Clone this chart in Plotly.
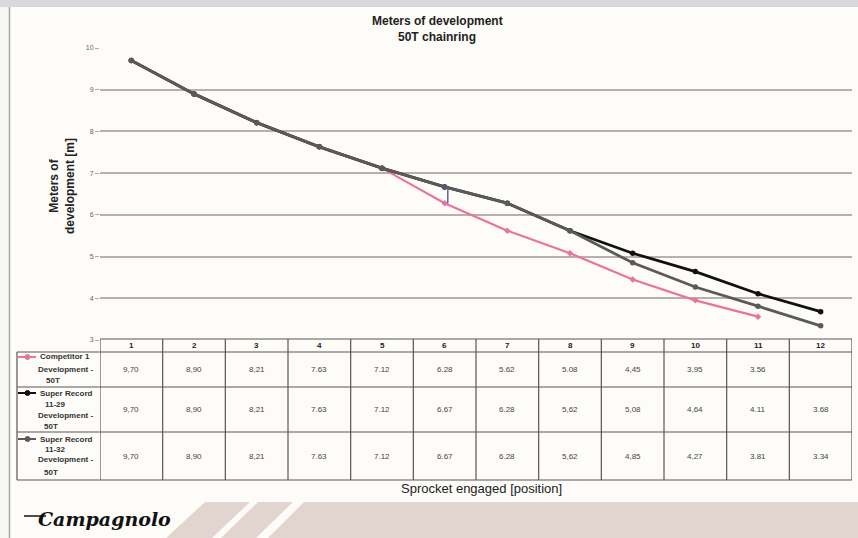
import plotly.graph_objects as go

# ---------------- data ----------------
positions = [1, 2, 3, 4, 5, 6, 7, 8, 9, 10, 11, 12]
competitor = [9.70, 8.90, 8.21, 7.63, 7.12, 6.28, 5.62, 5.08, 4.45, 3.95, 3.56, None]
sr_11_29 = [9.70, 8.90, 8.21, 7.63, 7.12, 6.67, 6.28, 5.62, 5.08, 4.64, 4.11, 3.68]
sr_11_32 = [9.70, 8.90, 8.21, 7.63, 7.12, 6.67, 6.28, 5.62, 4.85, 4.27, 3.81, 3.34]

competitor_labels = ["9,70", "8,90", "8,21", "7.63", "7.12", "6.28", "5.62", "5.08", "4,45", "3,95", "3.56", ""]
sr_11_29_labels = ["9,70", "8,90", "8,21", "7.63", "7.12", "6.67", "6.28", "5,62", "5,08", "4,64", "4.11", "3.68"]
sr_11_32_labels = ["9,70", "8,90", "8,21", "7.63", "7.12", "6.67", "6.28", "5,62", "4,85", "4,27", "3.81", "3.34"]

y_ticks = [3, 4, 5, 6, 7, 8, 9, 10]

# ---------------- geometry helpers (pixel -> paper) ----------------
W, H = 858, 538
PL, PR, PT, PB = 100, 852, 48, 340


def px(x):
    return (x - PL) / (PR - PL)


def py(y):
    return (PB - y) / (PB - PT)


PINK = "#e8739e"
BLACK = "#111111"
GRAY = "#5a5a5a"
FONT = "Liberation Sans"

fig = go.Figure()

fig.add_trace(go.Scatter(x=positions, y=competitor, mode="lines+markers",
                         line=dict(color=PINK, width=2.2),
                         marker=dict(color=PINK, size=5, symbol="diamond"),
                         name="Competitor 1", showlegend=False))
fig.add_trace(go.Scatter(x=positions, y=sr_11_29, mode="lines+markers",
                         line=dict(color=BLACK, width=2.8),
                         marker=dict(color=BLACK, size=5.5),
                         name="Super Record 11-29", showlegend=False))
fig.add_trace(go.Scatter(x=positions, y=sr_11_32, mode="lines+markers",
                         line=dict(color=GRAY, width=2.8),
                         marker=dict(color=GRAY, size=5.5),
                         name="Super Record 11-32", showlegend=False))
# blue bracket between competitor and super record at position 6
fig.add_trace(go.Scatter(x=[positions[5] + 0.05, positions[5] + 0.05],
                         y=[competitor[5], sr_11_29[5]], mode="lines",
                         line=dict(color="#4a6aa8", width=1.5), showlegend=False,
                         hoverinfo="skip"))

shapes = []
annotations = []


def ann(x, y, text, size, color="#222", weight="normal", xref="paper", **kw):
    d = dict(xref=xref, yref="paper", x=x, y=y, text=text, showarrow=False,
             xanchor="center", yanchor="middle",
             font=dict(family=kw.pop("family", FONT), size=size, color=color, weight=weight,
                       style=kw.pop("style", "normal")))
    d.update(kw)
    annotations.append(d)


# background decorations
shapes.append(dict(type="rect", xref="paper", yref="paper", x0=px(0), x1=px(W), y0=py(0), y1=py(7),
                   fillcolor="#d9d9dc", line=dict(width=0), layer="below"))
shapes.append(dict(type="rect", xref="paper", yref="paper", x0=px(0), x1=px(9), y0=py(7), y1=py(H),
                   fillcolor="#f6f6f4", line=dict(width=0), layer="below"))
shapes.append(dict(type="line", xref="paper", yref="paper", x0=px(9.5), x1=px(9.5), y0=py(7), y1=py(H),
                   line=dict(color="#a8a8a8", width=1.5)))

STRIPE = "#e2d4ce"


def poly(pts):
    d = "M " + " L ".join(f"{px(a):.5f},{py(b):.5f}" for a, b in pts) + " Z"
    return dict(type="path", xref="paper", yref="paper", path=d, fillcolor=STRIPE,
                line=dict(width=0), layer="below")


shapes.append(poly([(205, 502), (250, 502), (212, 538), (166, 538)]))
shapes.append(poly([(258, 502), (293, 502), (256, 538), (221, 538)]))
shapes.append(poly([(304, 502), (W, 502), (W, H), (268, H)]))

# logo
shapes.append(dict(type="line", xref="paper", yref="paper", x0=px(24), x1=px(46), y0=py(516), y1=py(516),
                   line=dict(color="#111", width=1.5)))
ann(px(104), py(519), "Campagnolo", 19, color="#111", weight="bold", family="DejaVu Serif", style="italic")

# ---------------- table ----------------
BORDER = "#5a5652"
T_TOP, T_HEAD, R1, R2, R3 = 339, 352, 387, 432, 480

for k in range(len(positions) + 1):
    shapes.append(dict(type="line", xref="x", yref="paper", x0=k + 0.5, x1=k + 0.5,
                       y0=py(T_TOP), y1=py(R3), line=dict(color=BORDER, width=1.2)))
for yy in [T_TOP]:
    shapes.append(dict(type="line", xref="paper", yref="paper", x0=px(PL), x1=px(PR),
                       y0=py(yy), y1=py(yy), line=dict(color=BORDER, width=1.2)))
for yy in [T_HEAD, R1, R2, R3]:
    shapes.append(dict(type="line", xref="paper", yref="paper", x0=px(17), x1=px(PR),
                       y0=py(yy), y1=py(yy), line=dict(color=BORDER, width=1.2)))
shapes.append(dict(type="line", xref="paper", yref="paper", x0=px(17), x1=px(17),
                   y0=py(T_HEAD), y1=py(R3), line=dict(color=BORDER, width=1.2)))

for p in positions:
    ann(p, py(345.5), str(p), 8, color="#222", weight="bold", xref="x")

for labels, yc in [(competitor_labels, 369.5), (sr_11_29_labels, 409.5), (sr_11_32_labels, 456)]:
    for p, lab in zip(positions, labels):
        if lab:
            ann(p, py(yc), lab, 8, color="#444", xref="x")

legend_lines = [
    ("Competitor 1", 65, 357), ("Development -", 65, 369), ("50T", 53, 380),
    ("Super Record", 66, 393), ("11-29", 55, 404), ("Development -", 65, 415), ("50T", 51, 426),
    ("Super Record", 66, 439), ("11-32", 55, 449), ("Development -", 65, 460), ("50T", 51, 472),
]
for txt, xc, yc in legend_lines:
    ann(px(xc), py(yc), txt, 8, color="#333", weight="bold")

for color, yc in [(PINK, 357), (BLACK, 393), (GRAY, 439)]:
    shapes.append(dict(type="line", xref="paper", yref="paper", x0=px(18), x1=px(36),
                       y0=py(yc), y1=py(yc), line=dict(color=color, width=2)))
    shapes.append(dict(type="circle", xref="paper", yref="paper", x0=px(25), x1=px(30),
                       y0=py(yc - 2.5), y1=py(yc + 2.5), fillcolor=color, line=dict(color=color, width=1)))

# titles
ann(px(437), py(21), "Meters of development", 12, weight="bold")
ann(px(437), py(37), "50T chainring", 12, weight="bold")
ann(px(62), py(186), "Meters of<br>development [m]", 12, weight="bold", textangle=-90)
ann(px(481), py(488), "Sprocket engaged [position]", 13)

fig.update_layout(
    width=W, height=H,
    margin=dict(l=PL, r=W - PR, t=PT, b=H - PB, pad=0),
    paper_bgcolor="#fdfcf8", plot_bgcolor="#fdfcf8",
    shapes=shapes, annotations=annotations,
    xaxis=dict(range=[0.5, 12.5], showgrid=False, zeroline=False, showticklabels=False,
               showline=False, ticks=""),
    yaxis=dict(range=[3, 10], tickvals=y_ticks, ticktext=[str(v) for v in y_ticks],
               showgrid=True, gridcolor="#b9b1a9", gridwidth=1.6, zeroline=False,
               showline=False, ticks="outside", ticklen=4, tickcolor="#aaa",
               tickfont=dict(family=FONT, size=7, color="#666")),
)

fig.write_html("out.html", config={"displayModeBar": False},
               post_script="document.body.style.margin='0';")
